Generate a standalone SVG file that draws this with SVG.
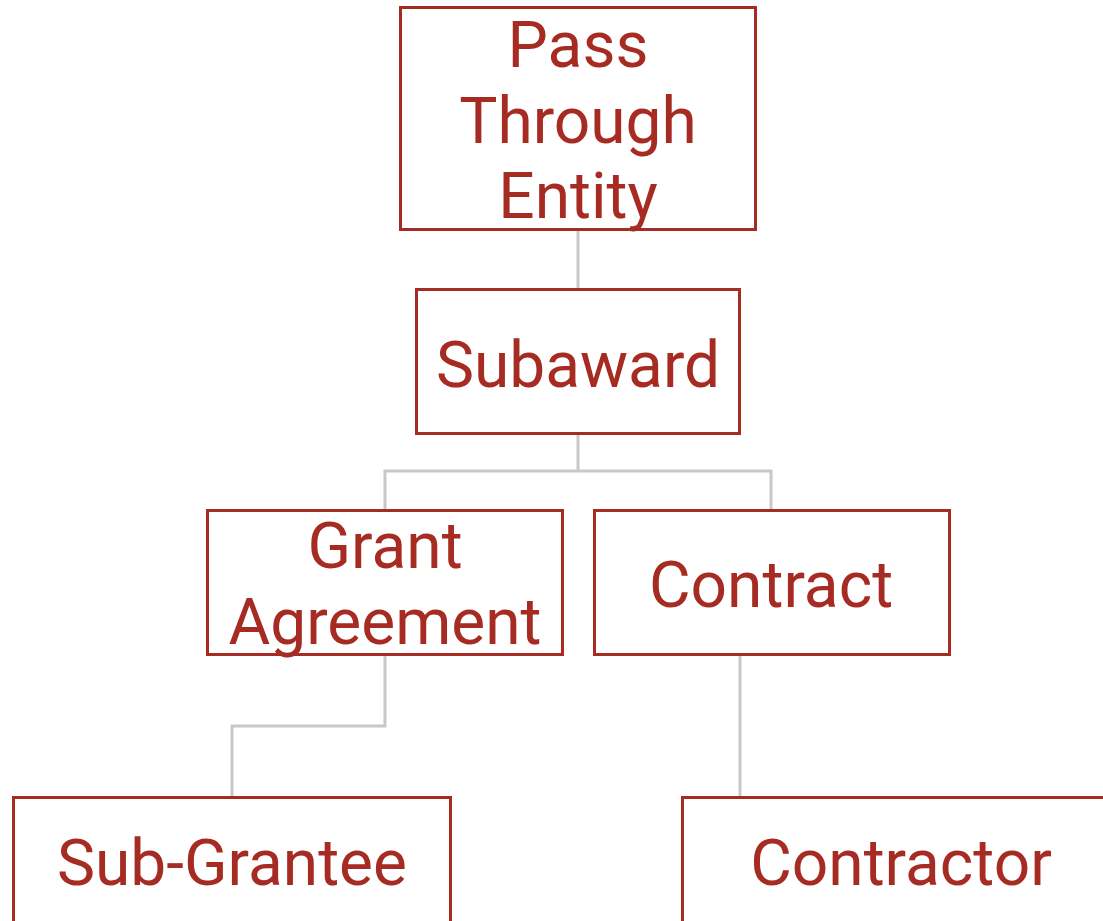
<svg xmlns="http://www.w3.org/2000/svg" width="1103" height="921" viewBox="0 0 1103 921">
<style>
.box{fill:#fff;stroke:#a62b22;stroke-width:3}
.lbl{font-family:Roboto,"Liberation Sans",sans-serif;font-size:64px;fill:#a62b22;text-anchor:middle}
.conn{fill:none;stroke:#c8c8c8;stroke-width:3}
</style>
<rect width="1103" height="921" fill="#fff"/>
<g id="connectors">
<path class="conn" d="M578,230V289"/>
<path class="conn" d="M578,433V471M385,510V471H771V510"/>
<path class="conn" d="M385,654V726H232V797"/>
<path class="conn" d="M740,654V797"/>
</g>
<g id="pass-through-entity">
<rect class="box" x="400.5" y="7.5" width="355" height="222"/>
<text class="lbl" x="578" y="67">Pass</text>
<text class="lbl" x="578" y="143">Through</text>
<text class="lbl" x="578" y="218">Entity</text>
</g>
<g id="subaward">
<rect class="box" x="416.5" y="289.5" width="323" height="144"/>
<text class="lbl" x="578" y="387">Subaward</text>
</g>
<g id="grant-agreement">
<rect class="box" x="207.5" y="510.5" width="355" height="144"/>
<text class="lbl" x="385" y="568">Grant</text>
<text class="lbl" x="385" y="644">Agreement</text>
</g>
<g id="contract">
<rect class="box" x="594.5" y="510.5" width="355" height="144"/>
<text class="lbl" x="771" y="607">Contract</text>
</g>
<g id="sub-grantee">
<rect class="box" x="13.5" y="797.5" width="437" height="140"/>
<text class="lbl" x="232" y="885">Sub-Grantee</text>
</g>
<g id="contractor">
<rect class="box" x="682.5" y="797.5" width="440" height="140"/>
<text class="lbl" x="901" y="885">Contractor</text>
</g>
</svg>
